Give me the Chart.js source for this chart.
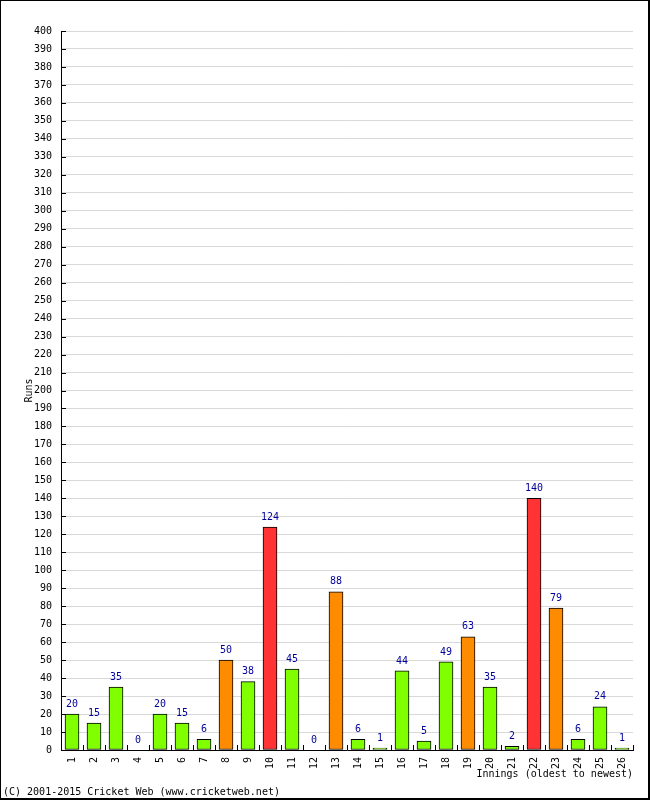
<!DOCTYPE html>
<html>
<head>
<meta charset="utf-8">
<script src="https://cdn.jsdelivr.net/npm/chart.js@4/dist/chart.umd.min.js"></script>
<style>
  html, body { margin: 0; padding: 0; background: #fff; }
  #wrap { width: 650px; height: 800px; position: relative; }
</style>
</head>
<body>
<div id="wrap"><canvas id="scoreChart" width="650" height="800"></canvas></div>
<script>
"use strict";
const innings = ['1','2','3','4','5','6','7','8','9','10','11','12','13','14','15','16','17','18','19','20','21','22','23','24','25','26'];
const runs = [20, 15, 35, 0, 20, 15, 6, 50, 38, 124, 45, 0, 88, 6, 1, 44, 5, 49, 63, 35, 2, 140, 79, 6, 24, 1];
const yMin = 0;
const yMax = 400;
const yStep = 10;

const mono = 'DejaVu Sans Mono';

function barColour(v) {
    if (v >= 100) return '#ff3333';
    if (v >= 50) return '#ff8c00';
    return '#80ff00';
}

// white page, frame, inner tick marks and value labels
const decorations = {
    id: 'decorations',
    beforeDraw(chart) {
        const ctx = chart.ctx;
        ctx.save();
        ctx.fillStyle = '#fff';
        ctx.fillRect(0, 0, chart.width, chart.height);
        ctx.restore();
    },
    afterDraw(chart) {
        const ctx = chart.ctx;
        const area = chart.chartArea;
        const y = chart.scales.y;
        ctx.save();
        ctx.fillStyle = '#000';
        // frame
        ctx.fillRect(0, 0, 650, 1);
        ctx.fillRect(0, 0, 1, 800);
        ctx.fillRect(648, 0, 2, 800);
        ctx.fillRect(0, 798, 650, 2);
        // y ticks pointing into the plot
        ctx.strokeStyle = '#000';
        ctx.lineWidth = 1;
        ctx.beginPath();
        for (let v = yMin; v <= yMax; v += yStep) {
            const py = Math.round(y.getPixelForValue(v)) + 0.5;
            ctx.moveTo(area.left, py);
            ctx.lineTo(area.left + 5, py);
        }
        // x ticks between the bars, pointing up
        const w = (area.right - area.left) / innings.length;
        for (let i = 0; i <= innings.length; i++) {
            const px = Math.round(area.left + i * w) + 0.5;
            ctx.moveTo(px, area.bottom);
            ctx.lineTo(px, area.bottom - 5);
        }
        ctx.stroke();
        // value labels
        ctx.fillStyle = '#000099';
        ctx.font = '10px ' + mono;
        ctx.textAlign = 'center';
        ctx.textBaseline = 'bottom';
        chart.getDatasetMeta(0).data.forEach((bar, i) => {
            ctx.fillText(String(runs[i]), bar.x, bar.y - 5);
        });
        ctx.restore();
    }
};

new Chart(document.getElementById('scoreChart'), {
    type: 'bar',
    data: {
        labels: innings,
        datasets: [{
            data: runs,
            backgroundColor: runs.map(barColour),
            borderColor: '#000',
            borderWidth: 1,
            borderSkipped: false,
            barThickness: 14,
            categoryPercentage: 1
        }]
    },
    options: {
        responsive: false,
        animation: false,
        layout: { padding: { left: 3, right: 17, top: 31, bottom: 0 } },
        plugins: {
            legend: { display: false },
            tooltip: { enabled: false },
            title: {
                display: true,
                position: 'bottom',
                align: 'start',
                text: '(C) 2001-2015 Cricket Web (www.cricketweb.net)',
                color: '#000',
                font: { family: mono, size: 10, weight: 'normal' },
                padding: { top: 6, bottom: 2 }
            }
        },
        scales: {
            x: {
                grid: { display: false, drawTicks: false },
                border: { display: true, color: '#000', width: 1 },
                ticks: {
                    color: '#000',
                    font: { family: mono, size: 10 },
                    minRotation: 90,
                    maxRotation: 90,
                    padding: 7,
                    autoSkip: false
                },
                title: {
                    display: true,
                    text: 'Innings (oldest to newest)',
                    align: 'end',
                    color: '#000',
                    font: { family: mono, size: 10 },
                    padding: { top: 0, bottom: 0 }
                },
                afterFit(scale) { scale.height = 30; }
            },
            y: {
                min: yMin,
                max: yMax,
                grid: { color: '#d9d9d9', drawTicks: false },
                border: { display: true, color: '#000', width: 1 },
                ticks: {
                    stepSize: yStep,
                    autoSkip: false,
                    color: '#000',
                    font: { family: mono, size: 10 },
                    padding: 9
                },
                title: {
                    display: true,
                    text: 'Runs',
                    color: '#000',
                    font: { family: mono, size: 10 },
                    padding: { top: 20, bottom: 0 }
                },
                afterFit(scale) { scale.width = 58; }
            }
        }
    },
    plugins: [decorations]
});
</script>
</body>
</html>
